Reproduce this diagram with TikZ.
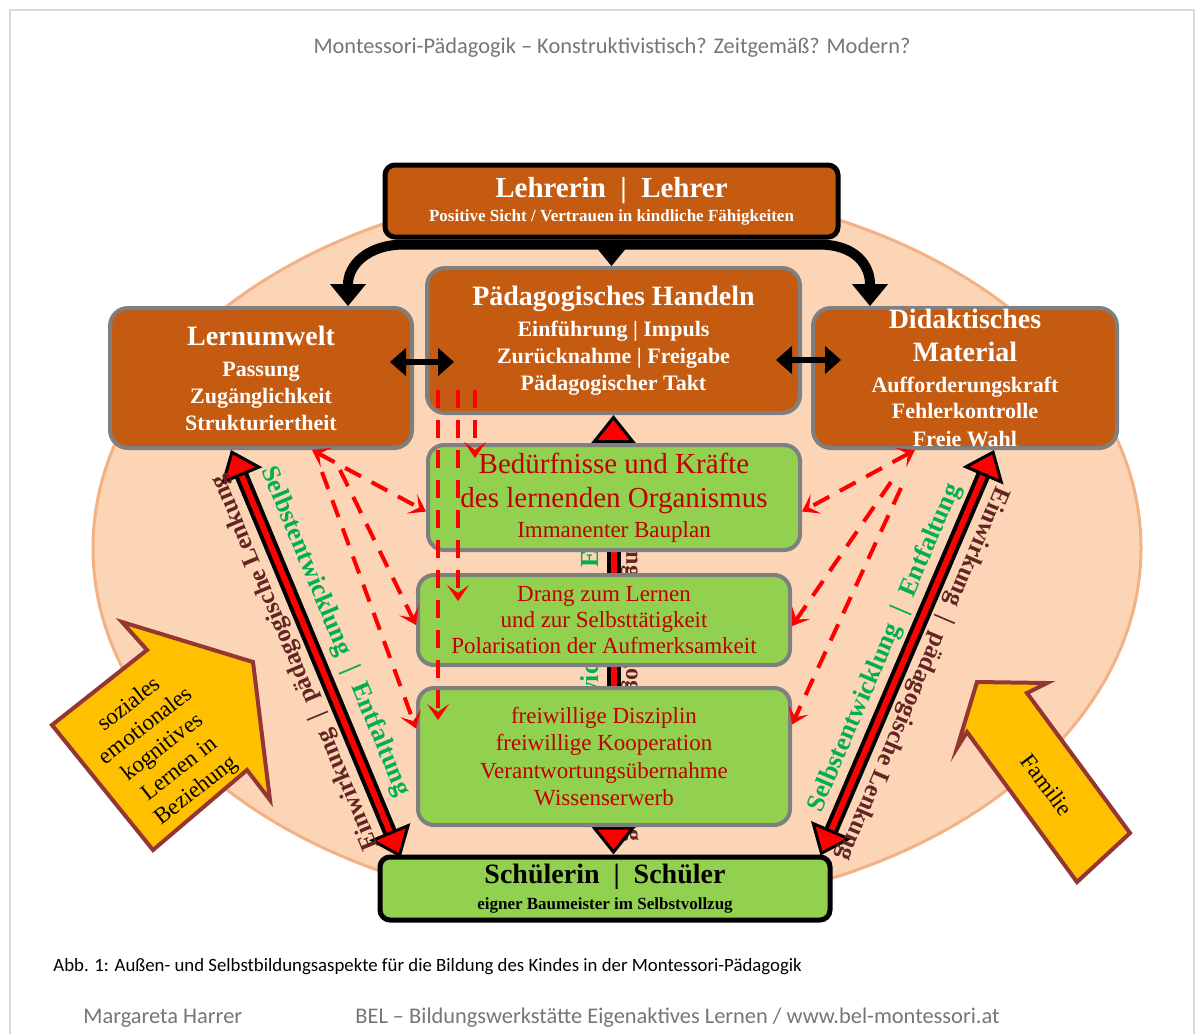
\documentclass[tikz,border=0pt]{standalone}
\usepackage{fontspec}
\setmainfont{Liberation Serif}
\newfontfamily\calibri{Carlito}
\usetikzlibrary{positioning, arrows.meta, calc, backgrounds}
\definecolor{clrbox}{HTML}{C55A11}
\definecolor{clrgreen}{HTML}{92D050}
\definecolor{clrgrey}{HTML}{7F7F7F}
\definecolor{clrpeach}{HTML}{FBD5B5}
\definecolor{clrpeachline}{HTML}{F4B183}
\definecolor{clrred}{HTML}{FF0000}
\definecolor{clrdarkred}{HTML}{C00000}
\definecolor{clrtxtgreen}{HTML}{00B050}
\definecolor{clrtxtbrown}{HTML}{632523}
\definecolor{clryellow}{HTML}{FFC000}
\definecolor{clryellowline}{HTML}{943634}
\definecolor{clrhead}{HTML}{767676}
\definecolor{clrpage}{HTML}{D9D9D9}

\begin{document}
\begin{tikzpicture}[
    x=0.5pt, y=-0.5pt,
    >=Stealth,
    redtip/.tip={Triangle[length=14pt, width=22pt, fill=clrred, color=black, line width=1.5pt]},
    dashtip/.tip={Stealth[length=8pt, width=11pt, inset=4pt, line width=0.5pt]},
    blktip/.tip={Triangle[length=11pt, width=18pt, line width=0.5pt]},
    smalltip/.tip={Triangle[length=8pt, width=14pt, line width=0.5pt]},
    brownbox/.style={draw=clrgrey, fill=clrbox, rounded corners=9pt, line width=2pt, text=white, align=center, inner sep=0pt, font=\fontsize{11}{13.5}\selectfont\bfseries},
    greenbox/.style={draw=clrgrey, fill=clrgreen, rounded corners=8pt, line width=2pt, text=clrdarkred, align=center, inner sep=0pt, font=\fontsize{11.5}{13.5}\selectfont},
    blackbox/.style={draw=black, line width=2.5pt, rounded corners=5pt, align=center, inner sep=0pt},
    bigarrow/.style={draw=clrred, line width=3pt, {redtip}-{redtip}},
    bigunder/.style={draw=black, line width=7pt, shorten <=10pt, shorten >=10pt},
    blkarrow/.style={draw=black, line width=5pt, line join=round, -{blktip}},
    blkdouble/.style={draw=black, line width=3pt, {smalltip}-{smalltip}},
    dasharrow/.style={draw=clrred, line width=2pt, dash pattern=on 9pt off 6pt, -{dashtip}},
    lgreen/.style={text=clrtxtgreen, font=\fontsize{13}{15}\selectfont\bfseries, inner sep=0pt},
    lbrown/.style={text=clrtxtbrown, font=\fontsize{12.5}{15}\selectfont\bfseries, inner sep=0pt},
    yarrow/.style={fill=clryellow, draw=clryellowline, line width=2pt, line join=miter},
    ytext/.style={font=\fontsize{11.5}{13.6}\selectfont, align=center, inner sep=0pt},
    pagetext/.style={font=\calibri\fontsize{11.2}{13}\selectfont, text=clrhead, inner sep=0pt},
]
\useasboundingbox (0,0) rectangle (1204,1034);
\node[blackbox, fill=clrbox, text=white, minimum width=226.5pt, minimum height=36pt, font=\fontsize{8.5}{12}\selectfont\bfseries] (n_lehrer) at (611.5,201) {{\fontsize{14.5}{17}\selectfont Lehrerin~~|~~Lehrer}\\Positive Sicht / Vertrauen in kindliche Fähigkeiten};
\node[brownbox, minimum width=186.5pt, minimum height=72.5pt] (n_handeln) at (613.5,340.5) {{\fontsize{14}{16}\selectfont Pädagogisches Handeln}\\[2pt]Einführung | Impuls\\Zurücknahme | Freigabe\\Pädagogischer Takt};
\node[brownbox, minimum width=151pt, minimum height=70pt] (n_umwelt) at (261,378) {{\fontsize{14}{16}\selectfont Lernumwelt}\\[2pt]Passung\\Zugänglichkeit\\Strukturiertheit};
\node[brownbox, minimum width=152pt, minimum height=70pt] (n_material) at (965,378) {{\fontsize{14}{16}\selectfont Didaktisches}\\[3pt]{\fontsize{14}{16}\selectfont Material}\\[2pt]Aufforderungskraft\\[-0.5pt]Fehlerkontrolle\\[0.5pt]Freie Wahl};
\node[greenbox, minimum width=186pt, minimum height=52.5pt, font=\fontsize{11.5}{15}\selectfont] (n_beduerf) at (614,497.5) {{\fontsize{14.5}{17}\selectfont Bedürfnisse und Kräfte}\\[2pt]{\fontsize{14.5}{17}\selectfont des lernenden Organismus}\\Immanenter Bauplan};
\node[greenbox, minimum width=186pt, minimum height=45pt, font=\fontsize{11.5}{13}\selectfont] (n_drang) at (604,620) {Drang zum Lernen\\und zur Selbsttätigkeit\\Polarisation der Aufmerksamkeit};
\node[greenbox, minimum width=186pt, minimum height=68.5pt, font=\fontsize{11.5}{13.7}\selectfont] (n_diszi) at (604,756.5) {freiwillige Disziplin\\freiwillige Kooperation\\Verantwortungsübernahme\\Wissenserwerb};
\node[blackbox, fill=clrgreen, text=black, minimum width=225pt, minimum height=31.5pt, font=\fontsize{8.5}{13}\selectfont\bfseries] (n_schueler) at (605,888.5) {{\fontsize{14}{16}\selectfont Schülerin~~|~~Schüler}\\eigner Baumeister im Selbstvollzug};
\begin{pgfonlayer}{background}
\fill[white] (0,0) rectangle (1204,1034);
\draw[clrpage, line width=1pt] (10,1034) -- (10,10) -- (1194,10) -- (1194,1034);
\draw[fill=clrpeach, draw=clrpeachline, line width=1.5pt] (617,548) ellipse [x radius=262pt, y radius=181pt];
\node[lgreen, rotate=90] (hid_green) at (592,625) {Selbstentwicklung~~|~~Entfaltung};
\node[lbrown, rotate=-90, font=\fontsize{12}{14}\selectfont\bfseries] (hid_brown) at (632,648) {Einwirkung~~|~~pädagogische Lenkung};
\draw[bigunder] (n_handeln.south) -- (n_handeln.south |- n_schueler.north);
\draw[bigarrow] (n_handeln.south |- n_schueler.north) -- (n_handeln.south);
\end{pgfonlayer}
\node[pagetext] (t_title) at (612,48) {Montessori-Pädagogik – Konstruktivistisch? Zeitgemäß? Modern?};
\node[pagetext, text=black, anchor=west, font=\calibri\fontsize{9.4}{11}\selectfont] (t_caption) at (53,967) {Abb. 1: Außen- und Selbstbildungsaspekte für die Bildung des Kindes in der Montessori-Pädagogik};
\node[pagetext, anchor=west] (t_author) at (83,1018) {Margareta Harrer};
\node[pagetext, anchor=west] (t_bel) at (355,1018) {BEL – Bildungswerkstätte Eigenaktives Lernen / www.bel-montessori.at};
\draw[blkarrow] ([yshift=-2.5pt]n_lehrer.south) -- ($(n_lehrer.south west)+(22,5)$) .. controls +(-38,0) and +(0,-40) .. ([xshift=43.5pt]n_umwelt.north);
\draw[blkarrow] ([yshift=-2.5pt]n_lehrer.south) -- ($(n_lehrer.south east)+(-22,5)$) .. controls +(38,0) and +(0,-40) .. ([xshift=-47.5pt]n_material.north);
\draw[blkarrow] (n_lehrer.south) -- (n_lehrer.south |- n_handeln.north);
\draw[blkdouble, shorten <=-12pt, shorten >=-14.5pt] ([yshift=8pt]n_umwelt.east) -- ([yshift=8pt]n_umwelt.east -| n_handeln.west);
\draw[blkdouble, shorten <=-13pt, shorten >=-15pt] ([yshift=9pt]n_material.west -| n_handeln.east) -- ([yshift=9pt]n_material.west);
\coordinate (d_lt) at ([xshift=61.5pt]n_umwelt.south west);
\coordinate (d_lb) at ([xshift=11.5pt, yshift=-1.5pt]n_schueler.north west);
\coordinate (d_rt) at ([xshift=-62.5pt]n_material.south east);
\coordinate (d_rb) at ([xshift=-6pt, yshift=-0.5pt]n_schueler.north east);
\draw[bigunder] (d_lt) -- (d_lb);
\draw[bigarrow] (d_lt) -- (d_lb);
\draw[bigunder] (d_rt) -- (d_rb);
\draw[bigarrow] (d_rt) -- (d_rb);
\path (d_lb) -- node[lbrown, sloped, allow upside down, above=5pt, pos=0.5] (lbl_lb) {Einwirkung~~|~~pädagogische Lenkung} (d_lt);
\path (d_lt) -- node[lgreen, sloped, allow upside down, above=7pt, pos=0.47] (lbl_lg) {Selbstentwicklung~~|~~Entfaltung} (d_lb);
\path (d_rb) -- node[lgreen, sloped, allow upside down, above=5pt, pos=0.49] (lbl_rg) {Selbstentwicklung~~|~~Entfaltung} (d_rt);
\path (d_rt) -- node[lbrown, sloped, allow upside down, above=5pt, pos=0.53] (lbl_rb) {Einwirkung~~|~~pädagogische Lenkung} (d_rb);
\draw[dasharrow, {dashtip}-{dashtip}] ([xshift=-51pt]n_umwelt.south east) -- ([yshift=-7pt]n_beduerf.west);
\draw[dasharrow] ([xshift=-37pt, yshift=-10pt]n_umwelt.south east) -- ([yshift=-2.5pt]n_drang.west);
\draw[dasharrow] ([xshift=-46pt, yshift=-11pt]n_umwelt.south east) -- ([yshift=14pt]n_diszi.west);
\draw[dasharrow, {dashtip}-{dashtip}] ([xshift=52pt]n_material.south west) -- ([yshift=-7pt]n_beduerf.east);
\draw[dasharrow] ([xshift=40pt, yshift=-16pt]n_material.south west) -- ([yshift=-3pt]n_drang.east);
\draw[dasharrow] ([xshift=45pt, yshift=-19pt]n_material.south west) -- ([yshift=16pt]n_diszi.east);
\draw[dasharrow] ([xshift=25pt, yshift=12.5pt]n_handeln.south west) -- ([xshift=24.5pt, yshift=-7.5pt]n_beduerf.north west);
\draw[dasharrow] ([xshift=16.5pt, yshift=12.5pt]n_handeln.south west) -- ([xshift=21pt, yshift=-14pt]n_drang.north west);
\draw[dasharrow] ([xshift=6.5pt, yshift=12.5pt]n_handeln.south west) -- ([xshift=11pt, yshift=-17pt]n_diszi.north west);
\draw[yarrow] (52,725) -- (147,650) -- (122,622) -- (253,662) -- (270,800) -- (247,770) -- (153,850) -- cycle;
\node[ytext, rotate=38] (n_lernen) at (163,748) {soziales\\emotionales\\kognitives\\Lernen in\\Beziehung};
\draw[yarrow] (977,682) -- (1047,683) -- (1027,693) -- (1130,833) -- (1077,882) -- (967,732) -- (957,748) -- cycle;
\node[ytext, rotate=-53] (n_familie) at (1047,785) {Familie};
\end{tikzpicture}
\end{document}
